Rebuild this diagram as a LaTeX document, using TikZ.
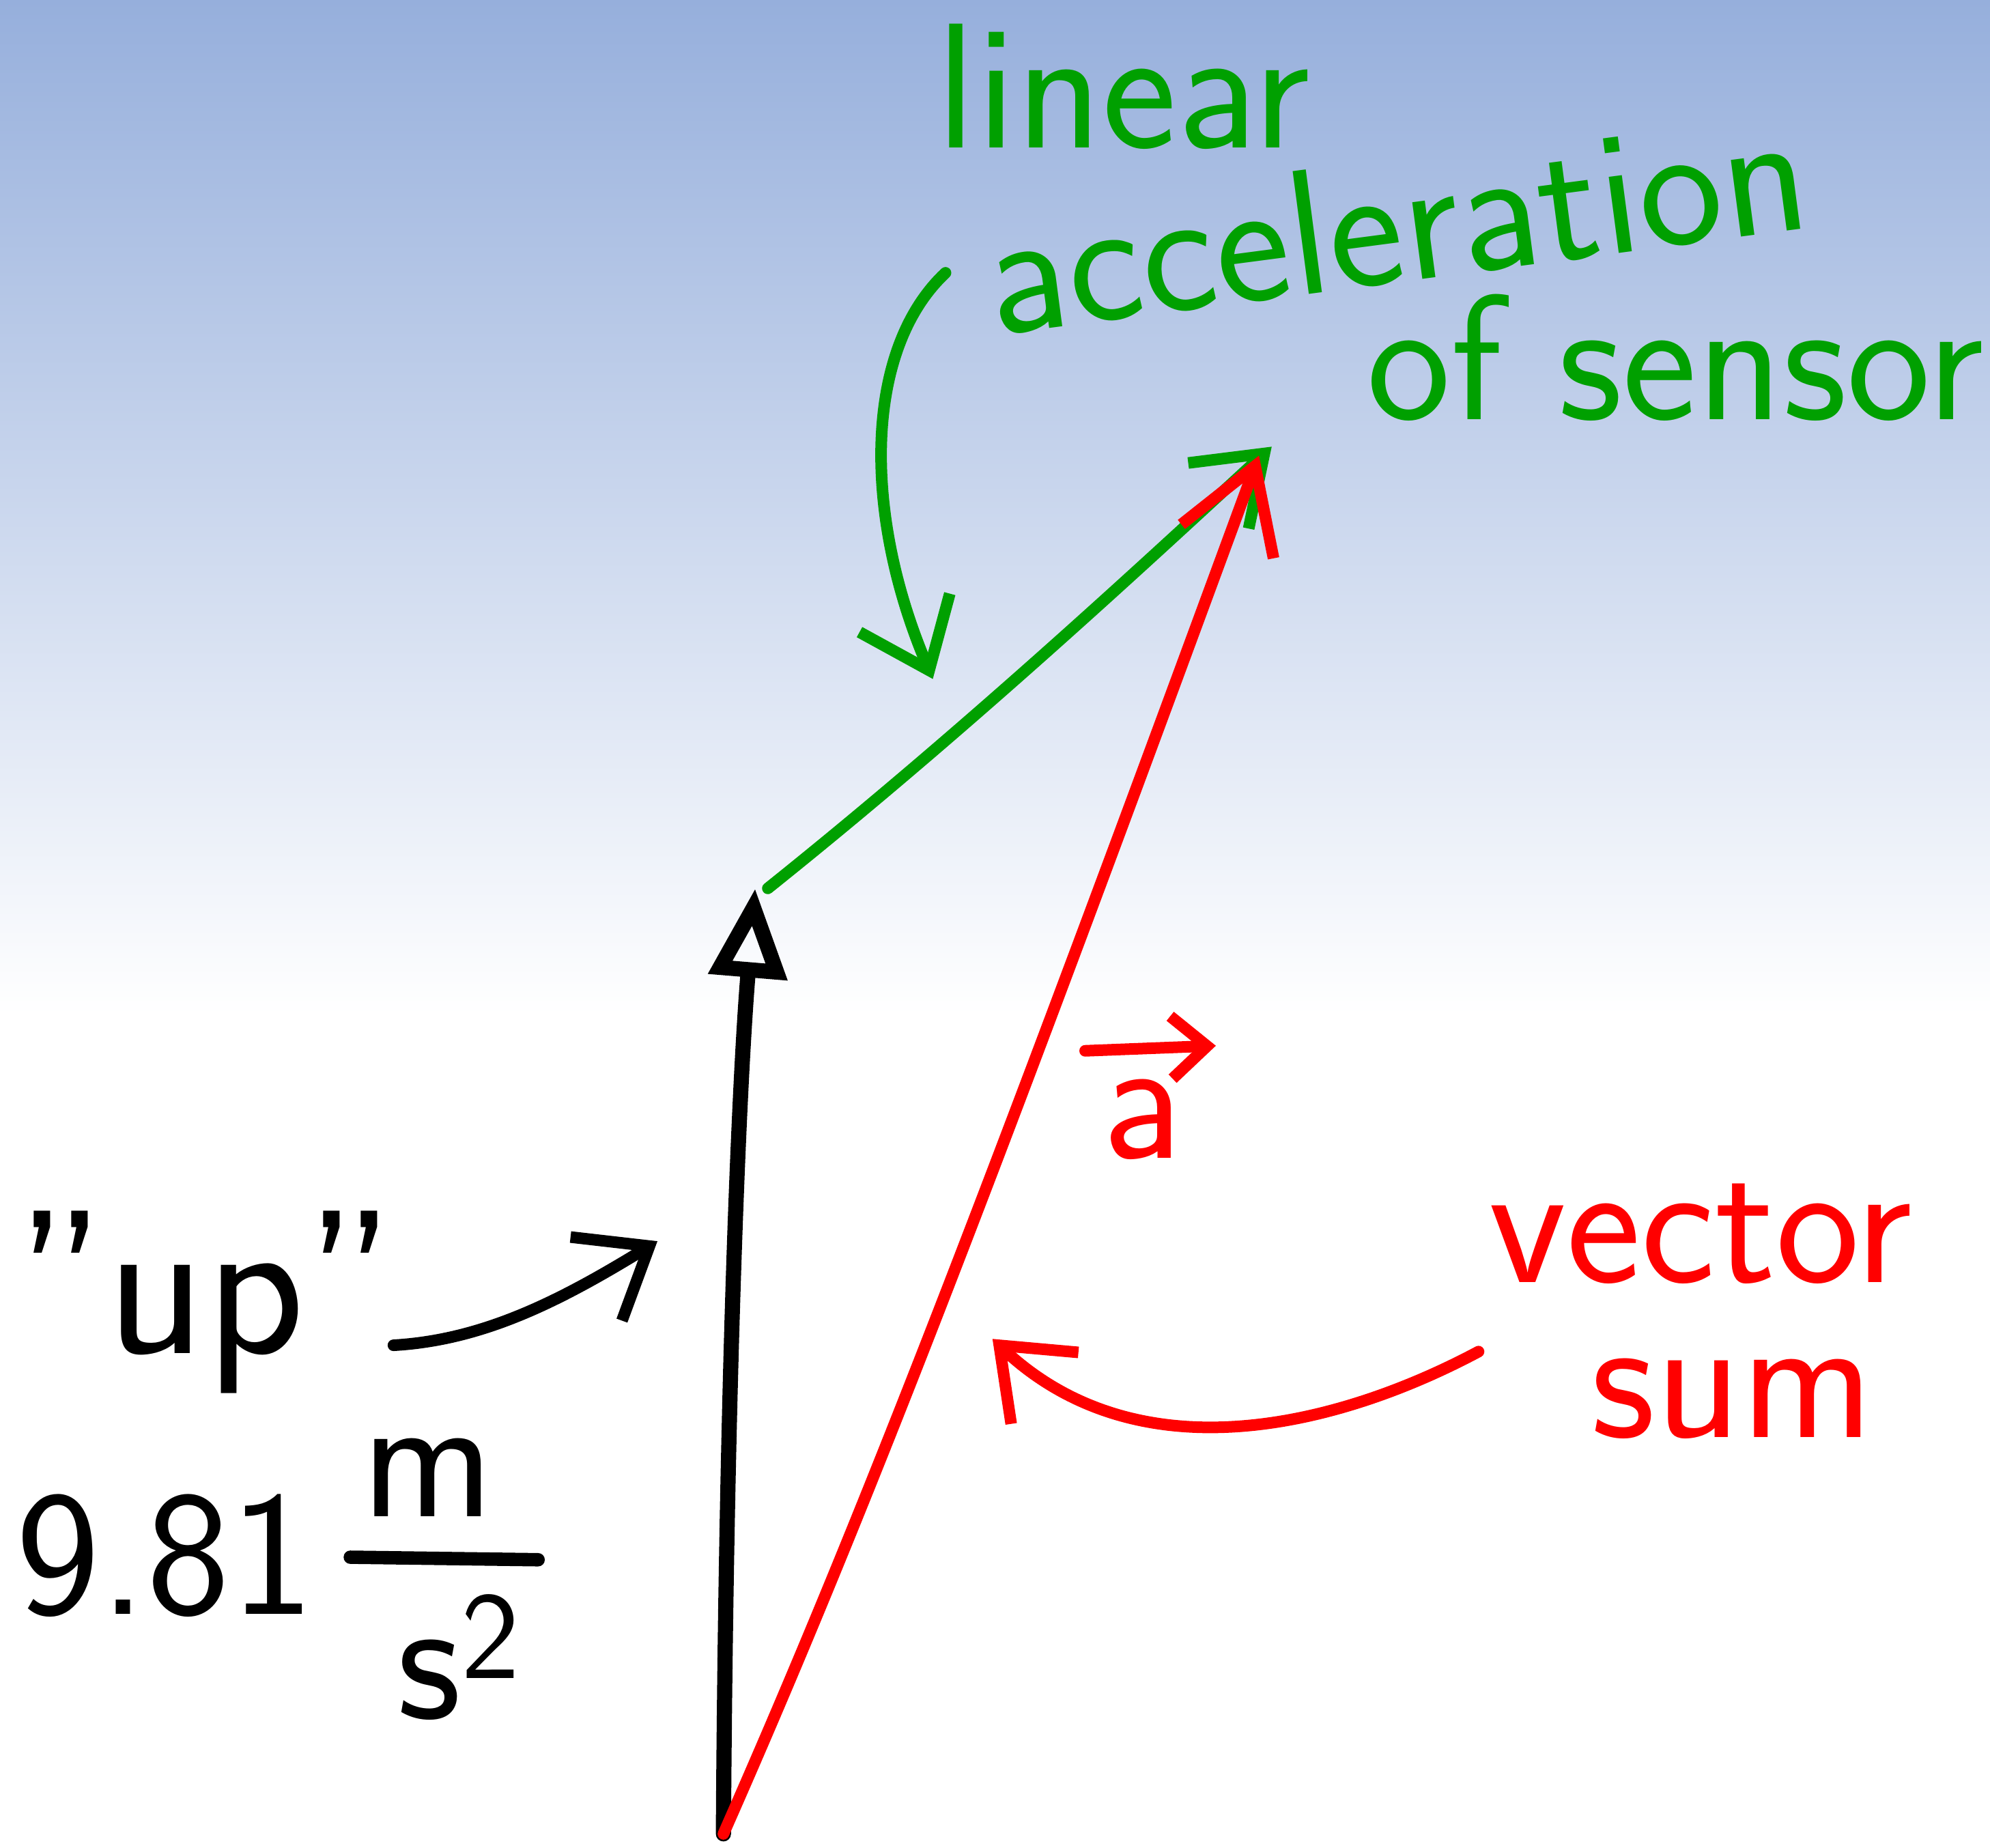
\documentclass[tikz,border=0pt]{standalone}
\usepackage{amsmath,amssymb}
\usepackage{tikz}
\usetikzlibrary{arrows.meta}

\definecolor{skyblue}{RGB}{150,175,220}
\definecolor{sensgreen}{RGB}{0,160,0}
\definecolor{sumred}{RGB}{255,0,0}

\begin{document}
\begin{tikzpicture}[every node/.style={font=\sffamily\fontsize{40}{44}\selectfont, inner sep=0pt},
	gvec/.style={line width=3.4pt, line cap=round, line join=round},
	hand/.style={line width=2.6pt, line cap=round, line join=round, -{Straight Barb[length=14pt,width=22pt,line width=2.6pt]}}]
	% background
	\useasboundingbox (0,0) rectangle (15.68,14.56);
	\fill[white] (0,0) rectangle (15.68,14.56);
	\shade[top color=skyblue, bottom color=white] (0,6.56) rectangle (15.68,14.56);

	\coordinate (O) at (5.70,0.11);
	\coordinate (G) at (5.95,7.56);
	\coordinate (S) at (6.05,7.56);
	\coordinate (T) at (10.02,11.04);
	\coordinate (R) at (9.92,10.97);

	% vectors
	\draw[gvec, -{Triangle[open,length=20pt,width=17pt,line width=3.4pt]}] (O) .. controls (5.72,3.5) and (5.82,6.0) .. (G);
	\draw[gvec, sensgreen, line width=2.6pt, -{Straight Barb[length=14pt,width=20pt,line width=2.6pt]}] (S) .. controls (7.6,8.8) and (9.0,10.1) .. (T);
	\draw[gvec, sumred, line width=2.6pt, -{Straight Barb[length=18pt,width=22pt,line width=2.6pt]}] (O) .. controls (6.8,2.6) and (7.8,5.2) .. (R);

	% black labels
	\node[font=\sffamily\fontsize{46}{50}\selectfont] (up) at (1.62,4.30) {"up"};
	\node[anchor=west] (num) at (0.12,2.30) {9.81};
	\node (m) at (3.37,2.92) {m};
	\node (s) at (3.62,1.50) {s\textsuperscript{2}};
	\draw[line width=3pt, line cap=round] (2.76,2.29) -- (4.24,2.27);
	\coordinate (u1) at (3.10,3.96);
	\coordinate (u2) at (5.18,4.78);
	\draw[hand] (u1) .. controls (3.8,4.0) and (4.4,4.3) .. (u2);

	% green labels
	\node[sensgreen] (lin) at (8.85,13.88) {linear};
	\node[sensgreen, rotate=7.5] (acc) at (11.00,12.82) {acceleration};
	\node[sensgreen] (ofs) at (13.20,11.74) {of sensor};
	\coordinate (g1) at (7.45,12.41);
	\coordinate (g2) at (7.35,9.21);
	\draw[hand, sensgreen] (g1) .. controls (6.8,11.8) and (6.8,10.5) .. (g2);

	% red labels
	\node[sumred] (veca) at (9.00,5.74) {a};
	\draw[hand, sumred, -{Straight Barb[length=8pt,width=14pt,line width=2.6pt]}] ([shift={(-0.45,0.54)}]veca.center) -- ([shift={(0.58,0.58)}]veca.center);
	\node[sumred] (vec) at (13.40,4.84) {vector};
	\node[sumred] (sum) at (13.65,3.54) {sum};
	\coordinate (r1) at (11.65,3.91);
	\coordinate (r2) at (7.82,4.01);
	\draw[hand, sumred] (r1) .. controls (10.6,3.35) and (9.0,2.9) .. (r2);
\end{tikzpicture}
\end{document}
